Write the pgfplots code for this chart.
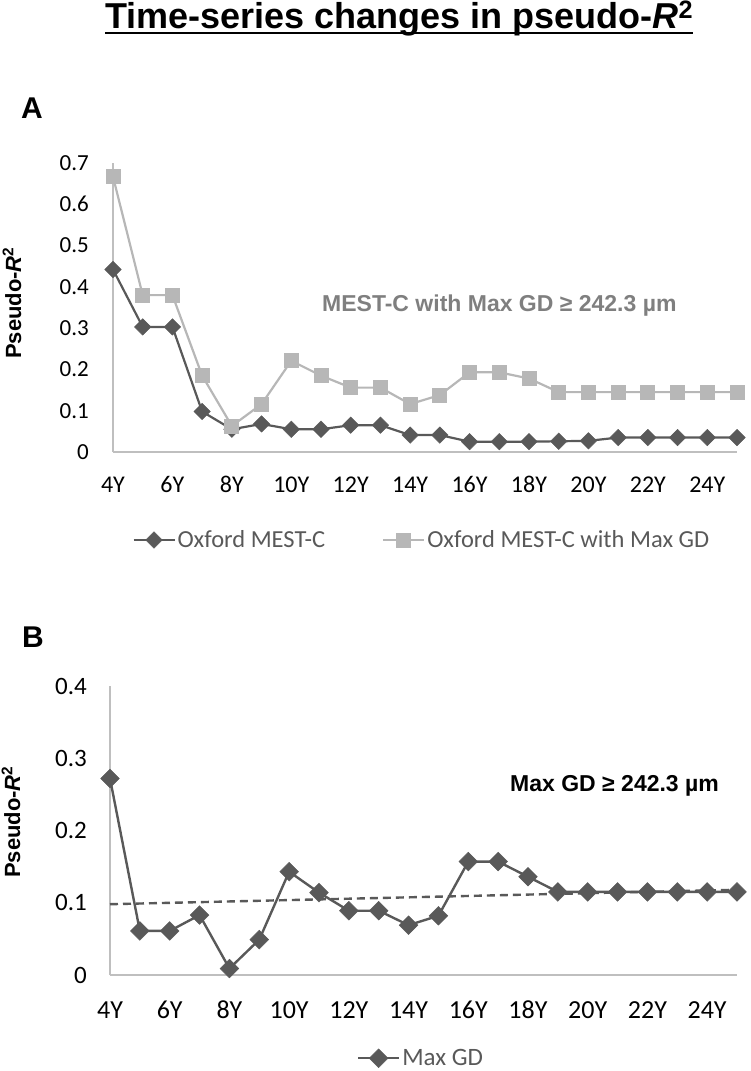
\documentclass[border=0pt]{standalone}
\usepackage{fontspec}
\setmainfont{Liberation Sans}
\newfontfamily\calfont{Carlito}
\usepackage{pgfplots}
\usepackage{pgfplotstable}
\pgfplotsset{compat=1.18}

\definecolor{darkser}{HTML}{595959}
\definecolor{lightser}{HTML}{B7B7B7}
\definecolor{axgray}{HTML}{BFBFBF}
\definecolor{notegray}{HTML}{7F7F7F}

% panel A: pseudo-R2 by follow-up year
\pgfplotstableread{
yr mest gd
4  0.442 0.667
5  0.303 0.380
6  0.303 0.380
7  0.098 0.185
8  0.055 0.063
9  0.068 0.116
10 0.055 0.221
11 0.055 0.185
12 0.065 0.156
13 0.065 0.156
14 0.041 0.116
15 0.041 0.138
16 0.025 0.193
17 0.025 0.193
18 0.025 0.178
19 0.026 0.145
20 0.027 0.145
21 0.035 0.145
22 0.035 0.145
23 0.035 0.145
24 0.035 0.145
25 0.035 0.145
}\tabA

% panel B: Max GD alone
\pgfplotstableread{
yr maxgd
4  0.272
5  0.061
6  0.061
7  0.083
8  0.009
9  0.049
10 0.143
11 0.114
12 0.089
13 0.089
14 0.069
15 0.082
16 0.157
17 0.157
18 0.136
19 0.115
20 0.115
21 0.115
22 0.115
23 0.115
24 0.115
25 0.115
}\tabB

\pgfplotsset{
  panel/.style={
    scale only axis, anchor=south west,
    xmin=4, xmax=25, ymin=0,
    axis x line*=bottom, axis y line*=left,
    axis line style={axgray, line width=1.8pt, -},
    major tick length=0pt,
    xtick={4,6,...,24},
    xticklabels={4Y,6Y,8Y,10Y,12Y,14Y,16Y,18Y,20Y,22Y,24Y},
    /pgf/number format/assume math mode=true,
    yticklabel style={/pgf/number format/fixed, /pgf/number format/precision=1,
      anchor=east, inner sep=0pt},
    xticklabel style={anchor=base, inner sep=0pt},
    clip=false,
    legend image code/.code={\draw[mark repeat=2, mark phase=2, ##1]
      plot coordinates {(0pt,0pt) (20.5pt,0pt) (41pt,0pt)};},
    legend style={draw=none, fill=none, text=darkser, anchor=center,
      inner sep=0pt, nodes={inner sep=2pt},
      /tikz/every even column/.append style={column sep=55pt}},
    legend cell align=left,
  },
}

\begin{document}
\begin{tikzpicture}
\useasboundingbox (0pt,0pt) rectangle (750pt,-1071pt);

% title
\node[anchor=base west, inner sep=0pt, font=\bfseries\fontsize{36}{36}\selectfont] (t) at (105pt,-28pt)
  {Time-series changes in pseudo-\textit{R}\textsuperscript{2}};
\draw[line width=2pt] ([yshift=-5pt]t.base west) -- ([yshift=-5pt]t.base east);

\node[anchor=base west, inner sep=0pt, font=\bfseries\fontsize{30}{30}\selectfont] at (21pt,-118pt) {A};
\node[anchor=base west, inner sep=0pt, font=\bfseries\fontsize{30}{30}\selectfont] at (22pt,-647pt) {B};

\node[rotate=90, anchor=base, inner sep=0pt, font=\bfseries\fontsize{22}{22}\selectfont] at (21pt,-303pt)
  {Pseudo-\textit{R}\textsuperscript{2}};
\node[rotate=90, anchor=base, inner sep=0pt, font=\bfseries\fontsize{22}{22}\selectfont] at (20pt,-822pt)
  {Pseudo-\textit{R}\textsuperscript{2}};

\begin{axis}[panel,
  at={(113pt,-452pt)}, width=624pt, height=289pt,
  ymax=0.7, ytick={0,0.1,0.2,0.3,0.4,0.5,0.6,0.7},
  yticklabel style={font=\calfont\fontsize{23}{23}\selectfont, xshift=-24pt},
  xticklabel style={font=\calfont\fontsize{24}{24}\selectfont, yshift=-40pt},
  legend columns=2,
  legend style={font=\calfont\fontsize{24.5}{24.5}\selectfont,
    at={(axis description cs:0.495,-0.3045)}},
]
\addplot[darkser, line width=2.2pt, mark=square*, mark size=5.8pt,
  mark options={rotate=45, solid, line width=0.5pt}] table[x=yr, y=mest] {\tabA};
\addlegendentry{Oxford MEST-C}
\addplot[lightser, line width=2.2pt, mark=square*, mark size=7pt,
  mark options={solid, line width=0.8pt}] table[x=yr, y=gd] {\tabA};
\addlegendentry{Oxford MEST-C with Max GD}
\end{axis}

\node[anchor=base west, inner sep=0pt, text=notegray, font=\bfseries\fontsize{23}{23}\selectfont] at (322pt,-311pt)
  {MEST-C with Max GD ≥ 242.3 µm};

\begin{axis}[panel,
  at={(110pt,-975pt)}, width=627pt, height=289pt,
  ymax=0.4, ytick={0,0.1,0.2,0.3,0.4},
  yticklabel style={font=\calfont\fontsize{25}{25}\selectfont, xshift=-23pt},
  xticklabel style={font=\calfont\fontsize{26}{26}\selectfont, yshift=-43pt},
  legend style={font=\calfont\fontsize{25}{25}\selectfont,
    at={(axis description cs:0.496,-0.288)}},
]
% linear trend of the Max GD series
\addplot[darkser, line width=2.4pt, dash pattern=on 8pt off 5pt, forget plot]
  coordinates {(4,0.098) (25,0.118)};
\addplot[darkser, line width=2.4pt, mark=square*, mark size=6.6pt,
  mark options={rotate=45, solid, line width=0.5pt}] table[x=yr, y=maxgd] {\tabB};
\addlegendentry{Max GD}
\end{axis}

\node[anchor=base west, inner sep=0pt, font=\bfseries\fontsize{23}{23}\selectfont] at (510pt,-791pt)
  {Max GD ≥ 242.3 µm};
\end{tikzpicture}
\end{document}
